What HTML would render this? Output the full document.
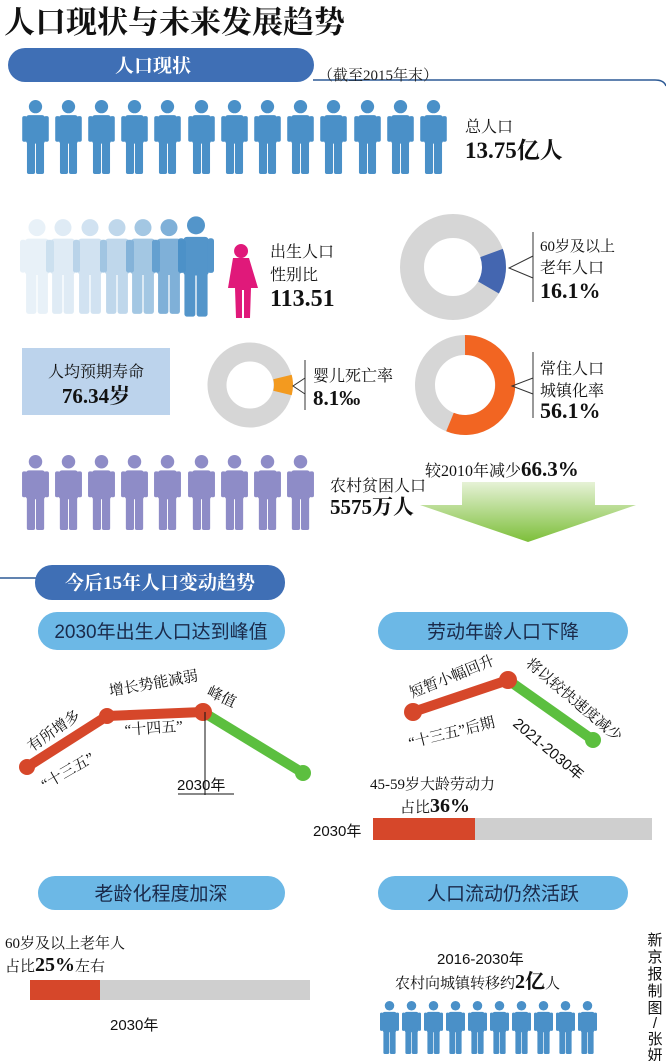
<!DOCTYPE html><html><head><meta charset="utf-8"><style>
body{margin:0;width:666px;height:1061px;background:#fff;overflow:hidden;font-family:"Liberation Serif","Noto Serif CJK SC",serif}
svg{position:absolute;left:0;top:0}
</style></head><body>
<svg width="666" height="1061" viewBox="0 0 666 1061" xmlns="http://www.w3.org/2000/svg">
<defs>
<symbol id="p" viewBox="0 0 28 78"><circle cx="14" cy="7" r="7"/><rect x="4" y="16" width="20" height="30" rx="3"/><rect x="0" y="17" width="5" height="27" rx="2"/><rect x="23" y="17" width="5" height="27" rx="2"/><rect x="5" y="40" width="8.5" height="38" rx="2"/><rect x="14.5" y="40" width="8.5" height="38" rx="2"/></symbol>
<linearGradient id="g" x1="0" y1="0" x2="0" y2="1"><stop offset="0" stop-color="#e6f2d6"/><stop offset="1" stop-color="#7dbf3a"/></linearGradient>
</defs>
<g font-family="Liberation Serif,Noto Serif CJK SC,serif">
<text x="4" y="33" font-size="31" font-weight="bold" fill="#111">人口现状与未来发展趋势</text>
<path d="M313 80 H655 Q664 80 666 86" stroke="#2d5a95" stroke-width="1.5" fill="none"/>
<rect x="8" y="48" width="306" height="34" rx="17" fill="#3f6fb5"/>
<text x="153" y="72" font-size="19" font-weight="bold" fill="#fff" text-anchor="middle">人口现状</text>
<text x="318" y="80" font-size="15" fill="#222">（截至2015年末）</text>
<g fill="#4a90c8">
<use href="#p" x="22" y="100" width="27" height="74"/><use href="#p" x="55" y="100" width="27" height="74"/><use href="#p" x="88" y="100" width="27" height="74"/><use href="#p" x="121" y="100" width="27" height="74"/><use href="#p" x="154" y="100" width="27" height="74"/><use href="#p" x="188" y="100" width="27" height="74"/><use href="#p" x="221" y="100" width="27" height="74"/><use href="#p" x="254" y="100" width="27" height="74"/><use href="#p" x="287" y="100" width="27" height="74"/><use href="#p" x="320" y="100" width="27" height="74"/><use href="#p" x="354" y="100" width="27" height="74"/><use href="#p" x="387" y="100" width="27" height="74"/><use href="#p" x="420" y="100" width="27" height="74"/>
</g>
<text x="465" y="132" font-size="16" fill="#111">总人口</text>
<text x="465" y="158" font-size="23" font-weight="bold" fill="#111">13.75亿人</text>
<g fill="#4a90c8">
<use href="#p" x="20" y="215" width="34" height="103" opacity="0.12"/><use href="#p" x="46" y="215" width="34" height="103" opacity="0.17"/><use href="#p" x="73" y="215" width="34" height="103" opacity="0.25"/><use href="#p" x="100" y="215" width="34" height="103" opacity="0.35"/><use href="#p" x="126" y="215" width="34" height="103" opacity="0.5"/><use href="#p" x="152" y="215" width="34" height="103" opacity="0.7"/><use href="#p" x="178" y="215" width="36" height="103" opacity="0.95"/>
</g>
<path fill="#e0197a" d="M241 244a7 7 0 1 0 0.1 0zM233 258h16l9 30h-7l-1 30h-6v-28h-2v28h-6l-1-30h-7z"/>
<text x="270" y="257" font-size="16" fill="#111">出生人口</text>
<text x="270" y="280" font-size="16" fill="#111">性别比</text>
<text x="270" y="306" font-size="24" font-weight="bold" fill="#111">113.51</text>
<circle cx="453" cy="267" r="41" fill="none" stroke="#d6d6d6" stroke-width="24"/>
<path d="M491.5 253 A41 41 0 0 1 488.5 287.5" fill="none" stroke="#4466b0" stroke-width="24"/>
<path d="M533 232V302M533 256L509 268L533 278" stroke="#333" fill="none" stroke-width="1"/>
<text x="540" y="251" font-size="15" fill="#111">60岁及以上</text>
<text x="540" y="273" font-size="16" fill="#111">老年人口</text>
<text x="540" y="298" font-size="22" font-weight="bold" fill="#111">16.1%</text>
<rect x="22" y="348" width="148" height="67" fill="#bcd3ec"/>
<text x="96" y="377" font-size="16" fill="#111" text-anchor="middle">人均预期寿命</text>
<text x="96" y="403" font-size="21" font-weight="bold" fill="#111" text-anchor="middle">76.34岁</text>
<circle cx="250" cy="385" r="33" fill="none" stroke="#d6d6d6" stroke-width="19"/>
<path d="M282.5 377 A33 33 0 0 1 282.5 393" fill="none" stroke="#f39a1f" stroke-width="19"/>
<path d="M305 360V410M305 378L293 386L305 394" stroke="#333" fill="none"/>
<text x="313" y="381" font-size="16" fill="#111">婴儿死亡率</text>
<text x="313" y="405" font-size="21" font-weight="bold" fill="#111">8.1‰</text>
<circle cx="465" cy="385" r="40" fill="none" stroke="#d6d6d6" stroke-width="20"/>
<path d="M465 345 A40 40 0 1 1 450 422" fill="none" stroke="#f26522" stroke-width="20"/>
<path d="M533 352V418M533 378L512 386L533 394" stroke="#333" fill="none"/>
<text x="540" y="374" font-size="16" fill="#111">常住人口</text>
<text x="540" y="396" font-size="16" fill="#111">城镇化率</text>
<text x="540" y="418" font-size="22" font-weight="bold" fill="#111">56.1%</text>
<g fill="#8e8cc7">
<use href="#p" x="22" y="455" width="27" height="75"/><use href="#p" x="55" y="455" width="27" height="75"/><use href="#p" x="88" y="455" width="27" height="75"/><use href="#p" x="121" y="455" width="27" height="75"/><use href="#p" x="154" y="455" width="27" height="75"/><use href="#p" x="188" y="455" width="27" height="75"/><use href="#p" x="221" y="455" width="27" height="75"/><use href="#p" x="254" y="455" width="27" height="75"/><use href="#p" x="287" y="455" width="27" height="75"/>
</g>
<text x="330" y="491" font-size="16" fill="#111">农村贫困人口</text>
<text x="330" y="514" font-size="21" font-weight="bold" fill="#111">5575万人</text>
<text x="425" y="476" font-size="16" fill="#111">较2010年减少<tspan font-size="21" font-weight="bold">66.3%</tspan></text>
<path d="M462 482H595V505H636L528 542L420 505H462Z" fill="url(#g)"/>
<path d="M0 578H40" stroke="#2d5a95" stroke-width="1.5"/>
<rect x="35" y="565" width="250" height="35" rx="17" fill="#3f6fb5"/>
<text x="160" y="589" font-size="19" font-weight="bold" fill="#fff" text-anchor="middle">今后15年人口变动趋势</text>
<rect x="38" y="612" width="247" height="38" rx="19" fill="#6cb8e6"/>
<rect x="378" y="612" width="250" height="38" rx="19" fill="#6cb8e6"/>
<g font-family="Liberation Sans,Noto Sans CJK SC,sans-serif" fill="#1a2a4a" font-size="19" text-anchor="middle">
<text x="161" y="638">2030年出生人口达到峰值</text>
<text x="503" y="638">劳动年龄人口下降</text>
</g>
<path d="M27 767L107 716L203 712" stroke="#d6472a" stroke-width="10" fill="none" stroke-linejoin="round"/>
<path d="M203 712L303 773" stroke="#5cbf3f" stroke-width="10" fill="none"/>
<circle cx="27" cy="767" r="8" fill="#d6472a"/><circle cx="107" cy="716" r="8" fill="#d6472a"/><circle cx="203" cy="712" r="9" fill="#d6472a"/><circle cx="303" cy="773" r="8" fill="#5cbf3f"/>
<path d="M205 712V795M178 794H234" stroke="#111" fill="none"/>
<text x="177" y="790" font-size="15" font-family="Liberation Sans,Noto Sans CJK SC,sans-serif" fill="#111">2030年</text>
<g font-size="15" fill="#111">
<text transform="translate(32,752) rotate(-35)">有所增多</text>
<text transform="translate(45,790) rotate(-30)">“十三五”</text>
<text transform="translate(110,696) rotate(-10)">增长势能减弱</text>
<text transform="translate(125,735) rotate(-4)">“十四五”</text>
<text transform="translate(206,695) rotate(25)">峰值</text>
</g>
<path d="M413 712L508 680" stroke="#d6472a" stroke-width="10"/>
<path d="M508 680L593 740" stroke="#5cbf3f" stroke-width="10"/>
<circle cx="413" cy="712" r="9" fill="#d6472a"/><circle cx="508" cy="680" r="9" fill="#d6472a"/><circle cx="593" cy="740" r="8" fill="#5cbf3f"/>
<g font-size="15" fill="#111">
<text transform="translate(412,698) rotate(-22)">短暂小幅回升</text>
<text transform="translate(410,748) rotate(-14)">“十三五”后期</text>
<text transform="translate(525,665) rotate(40)">将以较快速度减少</text>
<text font-family="Liberation Sans,Noto Sans CJK SC,sans-serif" transform="translate(512,725) rotate(40)">2021-2030年</text>
</g>
<text x="370" y="789" font-size="15" fill="#111">45-59岁大龄劳动力</text>
<text x="400" y="812" font-size="15" fill="#111">占比<tspan font-size="20" font-weight="bold">36%</tspan></text>
<rect x="373" y="818" width="102" height="22" fill="#d6472a"/><rect x="475" y="818" width="177" height="22" fill="#cfcfcf"/>
<text x="313" y="836" font-size="15" font-family="Liberation Sans,Noto Sans CJK SC,sans-serif" fill="#111">2030年</text>
<rect x="38" y="876" width="247" height="34" rx="17" fill="#6cb8e6"/>
<rect x="378" y="876" width="250" height="34" rx="17" fill="#6cb8e6"/>
<g font-family="Liberation Sans,Noto Sans CJK SC,sans-serif" fill="#1a2a4a" font-size="19" text-anchor="middle">
<text x="161" y="900">老龄化程度加深</text>
<text x="503" y="900">人口流动仍然活跃</text>
</g>
<text x="5" y="948" font-size="15" fill="#111">60岁及以上老年人</text>
<text x="5" y="971" font-size="15" fill="#111">占比<tspan font-size="20" font-weight="bold">25%</tspan>左右</text>
<rect x="30" y="980" width="70" height="20" fill="#d6472a"/><rect x="100" y="980" width="210" height="20" fill="#cfcfcf"/>
<text x="110" y="1030" font-size="15" font-family="Liberation Sans,Noto Sans CJK SC,sans-serif" fill="#111">2030年</text>
<text x="437" y="964" font-size="15" font-family="Liberation Sans,Noto Sans CJK SC,sans-serif" fill="#111">2016-2030年</text>
<text x="395" y="988" font-size="15" fill="#111">农村向城镇转移约<tspan font-size="20" font-weight="bold">2亿</tspan>人</text>
<g fill="#4a90c8">
<use href="#p" x="380" y="1000" width="19" height="55"/><use href="#p" x="402" y="1000" width="19" height="55"/><use href="#p" x="424" y="1000" width="19" height="55"/><use href="#p" x="446" y="1000" width="19" height="55"/><use href="#p" x="468" y="1000" width="19" height="55"/><use href="#p" x="490" y="1000" width="19" height="55"/><use href="#p" x="512" y="1000" width="19" height="55"/><use href="#p" x="534" y="1000" width="19" height="55"/><use href="#p" x="556" y="1000" width="19" height="55"/><use href="#p" x="578" y="1000" width="19" height="55"/>
</g>
<g font-family="Liberation Sans,Noto Sans CJK SC,sans-serif" font-size="15" fill="#111" text-anchor="middle">
<text x="655" y="945">新</text><text x="655" y="962">京</text><text x="655" y="979">报</text><text x="655" y="996">制</text><text x="655" y="1013">图</text><text x="655" y="1028">/</text><text x="655" y="1044">张</text><text x="655" y="1060">妍</text>
</g>
</g>
</svg>
</body></html>
